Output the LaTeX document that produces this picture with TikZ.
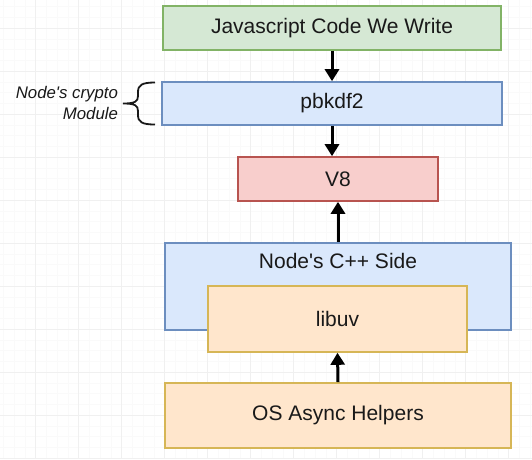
\documentclass[tikz,border=0pt]{standalone}
\usepackage{fontspec}
\setmainfont{Liberation Sans}
\usetikzlibrary{arrows.meta}
\definecolor{gfill}{HTML}{D5E8D4}\definecolor{gdraw}{HTML}{82B366}
\definecolor{bfill}{HTML}{DAE8FC}\definecolor{bdraw}{HTML}{6C8EBF}
\definecolor{rfill}{HTML}{F8CECC}\definecolor{rdraw}{HTML}{B85450}
\definecolor{ofill}{HTML}{FFE6CC}\definecolor{odraw}{HTML}{D6B656}
\definecolor{gridmajor}{HTML}{F0F0F0}\definecolor{gridminor}{HTML}{FAFAFA}
\tikzset{
  box/.style={draw, line width=1.6pt, inner sep=0pt, font=\fontsize{21}{25}\selectfont, text=black!90},
  flow/.style={line width=3pt, -{Triangle[width=14pt,length=12pt]}},
}
\begin{document}
\begin{tikzpicture}[x=1pt,y=-1pt]
\useasboundingbox (0,0) rectangle (532,459);
\fill[white] (0,0) rectangle (532,459);
% grid
\foreach \gx in {3.25,14,...,532} \draw[gridminor, line width=0.5pt] (\gx,0) -- (\gx,459);
\foreach \gy in {6.5,17.25,...,459} \draw[gridminor, line width=0.5pt] (0,\gy) -- (532,\gy);
\foreach \gx in {35,78,...,532} \draw[gridmajor, line width=0.8pt] (\gx,0) -- (\gx,459);
\foreach \gy in {28,71,...,459} \draw[gridmajor, line width=0.8pt] (0,\gy) -- (532,\gy);

\node[box, fill=gfill, draw=gdraw, minimum width=338pt, minimum height=44pt] (js) at (332,28) {Javascript Code We Write};
\node[box, fill=bfill, draw=bdraw, minimum width=340pt, minimum height=43pt] (pb) at (332,103.5) {pbkdf2};
\node[box, fill=rfill, draw=rdraw, minimum width=200pt, minimum height=44pt] (v8) at (338,179) {V8};
\node[box, fill=bfill, draw=bdraw, minimum width=346pt, minimum height=87pt] (cpp) at (338,286.5) {};
\node[font=\fontsize{21}{25}\selectfont, text=black!90] (cpptext) at (338,261) {Node\textquotesingle s C++ Side};
\node[box, fill=ofill, draw=odraw, minimum width=259pt, minimum height=66pt] (uv) at (337.5,319) {libuv};
\node[box, fill=ofill, draw=odraw, minimum width=346pt, minimum height=65pt] (os) at (338,415.5) {OS Async Helpers};

\draw[flow] (js.south) -- (pb.north);
\draw[flow] (pb.south) -- (pb.south |- v8.north);
\draw[flow] (cpp.north) -- (v8.south);
\draw[flow] (os.north) -- (uv.south);

% brace
\draw[line width=1.8pt, black!90] (155,82.5) .. controls (142,82.5) and (138,85) .. (138,92) -- (138,96)
  .. controls (138,101.5) and (135,103.5) .. (123,103.5)
  .. controls (135,103.5) and (138,105.5) .. (138,111) -- (138,115)
  .. controls (138,122) and (142,124.5) .. (155,124.5);
\node[font=\fontsize{16.8}{20.5}\selectfont\itshape, text=black!90, align=right, anchor=east] (label) at (121.5,103) {Node\textquotesingle s crypto\\Module};
\end{tikzpicture}
\end{document}
